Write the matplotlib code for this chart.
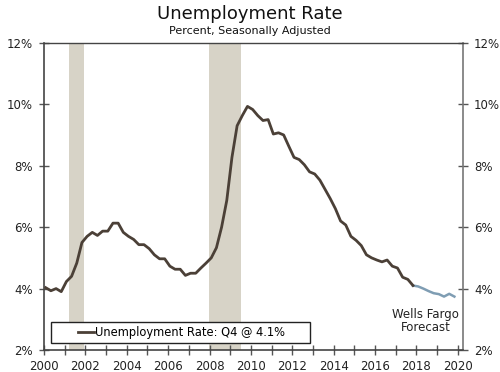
import matplotlib
matplotlib.use("Agg")
import matplotlib.pyplot as plt
from matplotlib.ticker import MultipleLocator, FuncFormatter
from matplotlib.patches import Rectangle

plt.rcParams['font.family'] = ['DejaVu Sans']

years = list(range(2000, 2018))
actual = [
    4.03, 3.93, 4.00, 3.90,
    4.23, 4.40, 4.83, 5.50,
    5.70, 5.83, 5.73, 5.87,
    5.87, 6.13, 6.13, 5.83,
    5.70, 5.60, 5.43, 5.43,
    5.30, 5.10, 4.97, 4.97,
    4.73, 4.63, 4.63, 4.43,
    4.50, 4.50, 4.67, 4.83,
    5.00, 5.33, 6.00, 6.87,
    8.27, 9.30, 9.63, 9.93,
    9.83, 9.63, 9.47, 9.50,
    9.03, 9.07, 9.00, 8.63,
    8.27, 8.20, 8.03, 7.80,
    7.73, 7.53, 7.23, 6.93,
    6.60, 6.20, 6.07, 5.70,
    5.57, 5.40, 5.10, 5.00,
    4.93, 4.87, 4.93, 4.73,
    4.67, 4.37, 4.30, 4.10,
]
forecast_years = [2018, 2019]
forecast = [4.07, 4.00, 3.92, 3.85, 3.82, 3.74, 3.83, 3.74]
recessions = [(2001.2, 2001.95), (2007.97, 2009.5)]
legend_label = "Unemployment Rate: Q4 @ 4.1%"

def qpos(yrs):
    return [y + q / 4 + 1 / 12 for y in yrs for q in range(4)]

x_act = qpos(years)
x_fc = [x_act[-1]] + qpos(forecast_years)
y_fc = [actual[-1]] + forecast

fig = plt.figure(figsize=(5.0, 3.72), dpi=100)
ax = fig.add_axes([0.088, 0.059, 0.838, 0.826])

for a, b in recessions:
    ax.axvspan(a, b, color="#d7d3c7", lw=0, zorder=0)

line_col = "#4b4037"
ax.plot(x_act, actual, color=line_col, lw=2.0, zorder=3, label=legend_label)
ax.plot(x_fc, y_fc, color="#7f9db3", lw=1.8, zorder=2)

ax.set_xlim(2000, 2020.25)
ax.set_ylim(2, 12)
ax.xaxis.set_major_locator(MultipleLocator(2))
ax.xaxis.set_minor_locator(MultipleLocator(1))
ax.yaxis.set_major_locator(MultipleLocator(2))
ax.yaxis.set_major_formatter(FuncFormatter(lambda v, p: f"{v:.0f}%"))
ax.tick_params(axis="both", which="major", direction="inout", length=7,
               width=1.0, color="#555555", labelsize=8.5, labelcolor="#222222")
ax.tick_params(axis="x", which="minor", direction="inout", length=7,
               width=1.0, color="#555555")
ax.tick_params(axis="y", which="both", right=True, labelright=True, pad=4.5)
ax.tick_params(axis="x", pad=4)

for s in ["left", "bottom"]:
    ax.spines[s].set_color("#444444")
    ax.spines[s].set_linewidth(1.2)
ax.spines["top"].set_color("#444444")
ax.spines["top"].set_linewidth(1.0)
ax.spines["right"].set_color("#777777")
ax.spines["right"].set_linewidth(1.2)

ax.add_patch(Rectangle((0.0167, 0.0228), 0.618, 0.0684, transform=ax.transAxes,
                       facecolor="white", edgecolor="#222222", lw=1.0, zorder=4))
leg = ax.legend(loc="center", bbox_to_anchor=(0.328, 0.057), frameon=False,
                fontsize=8.3, handlelength=1.4, handletextpad=0.1, borderpad=0,
                borderaxespad=0)
leg.set_zorder(5)

ax.text(2018.45, 3.37, "Wells Fargo\nForecast", ha="center", va="top",
        fontsize=8.5, color="#222222", linespacing=1.0)

fig.text(0.5, 0.962, "Unemployment Rate", ha="center", va="center",
         fontsize=13, color="#111111")
fig.text(0.5, 0.918, "Percent, Seasonally Adjusted", ha="center", va="center",
         fontsize=8, color="#111111")

fig.savefig("out.png", dpi=100)
